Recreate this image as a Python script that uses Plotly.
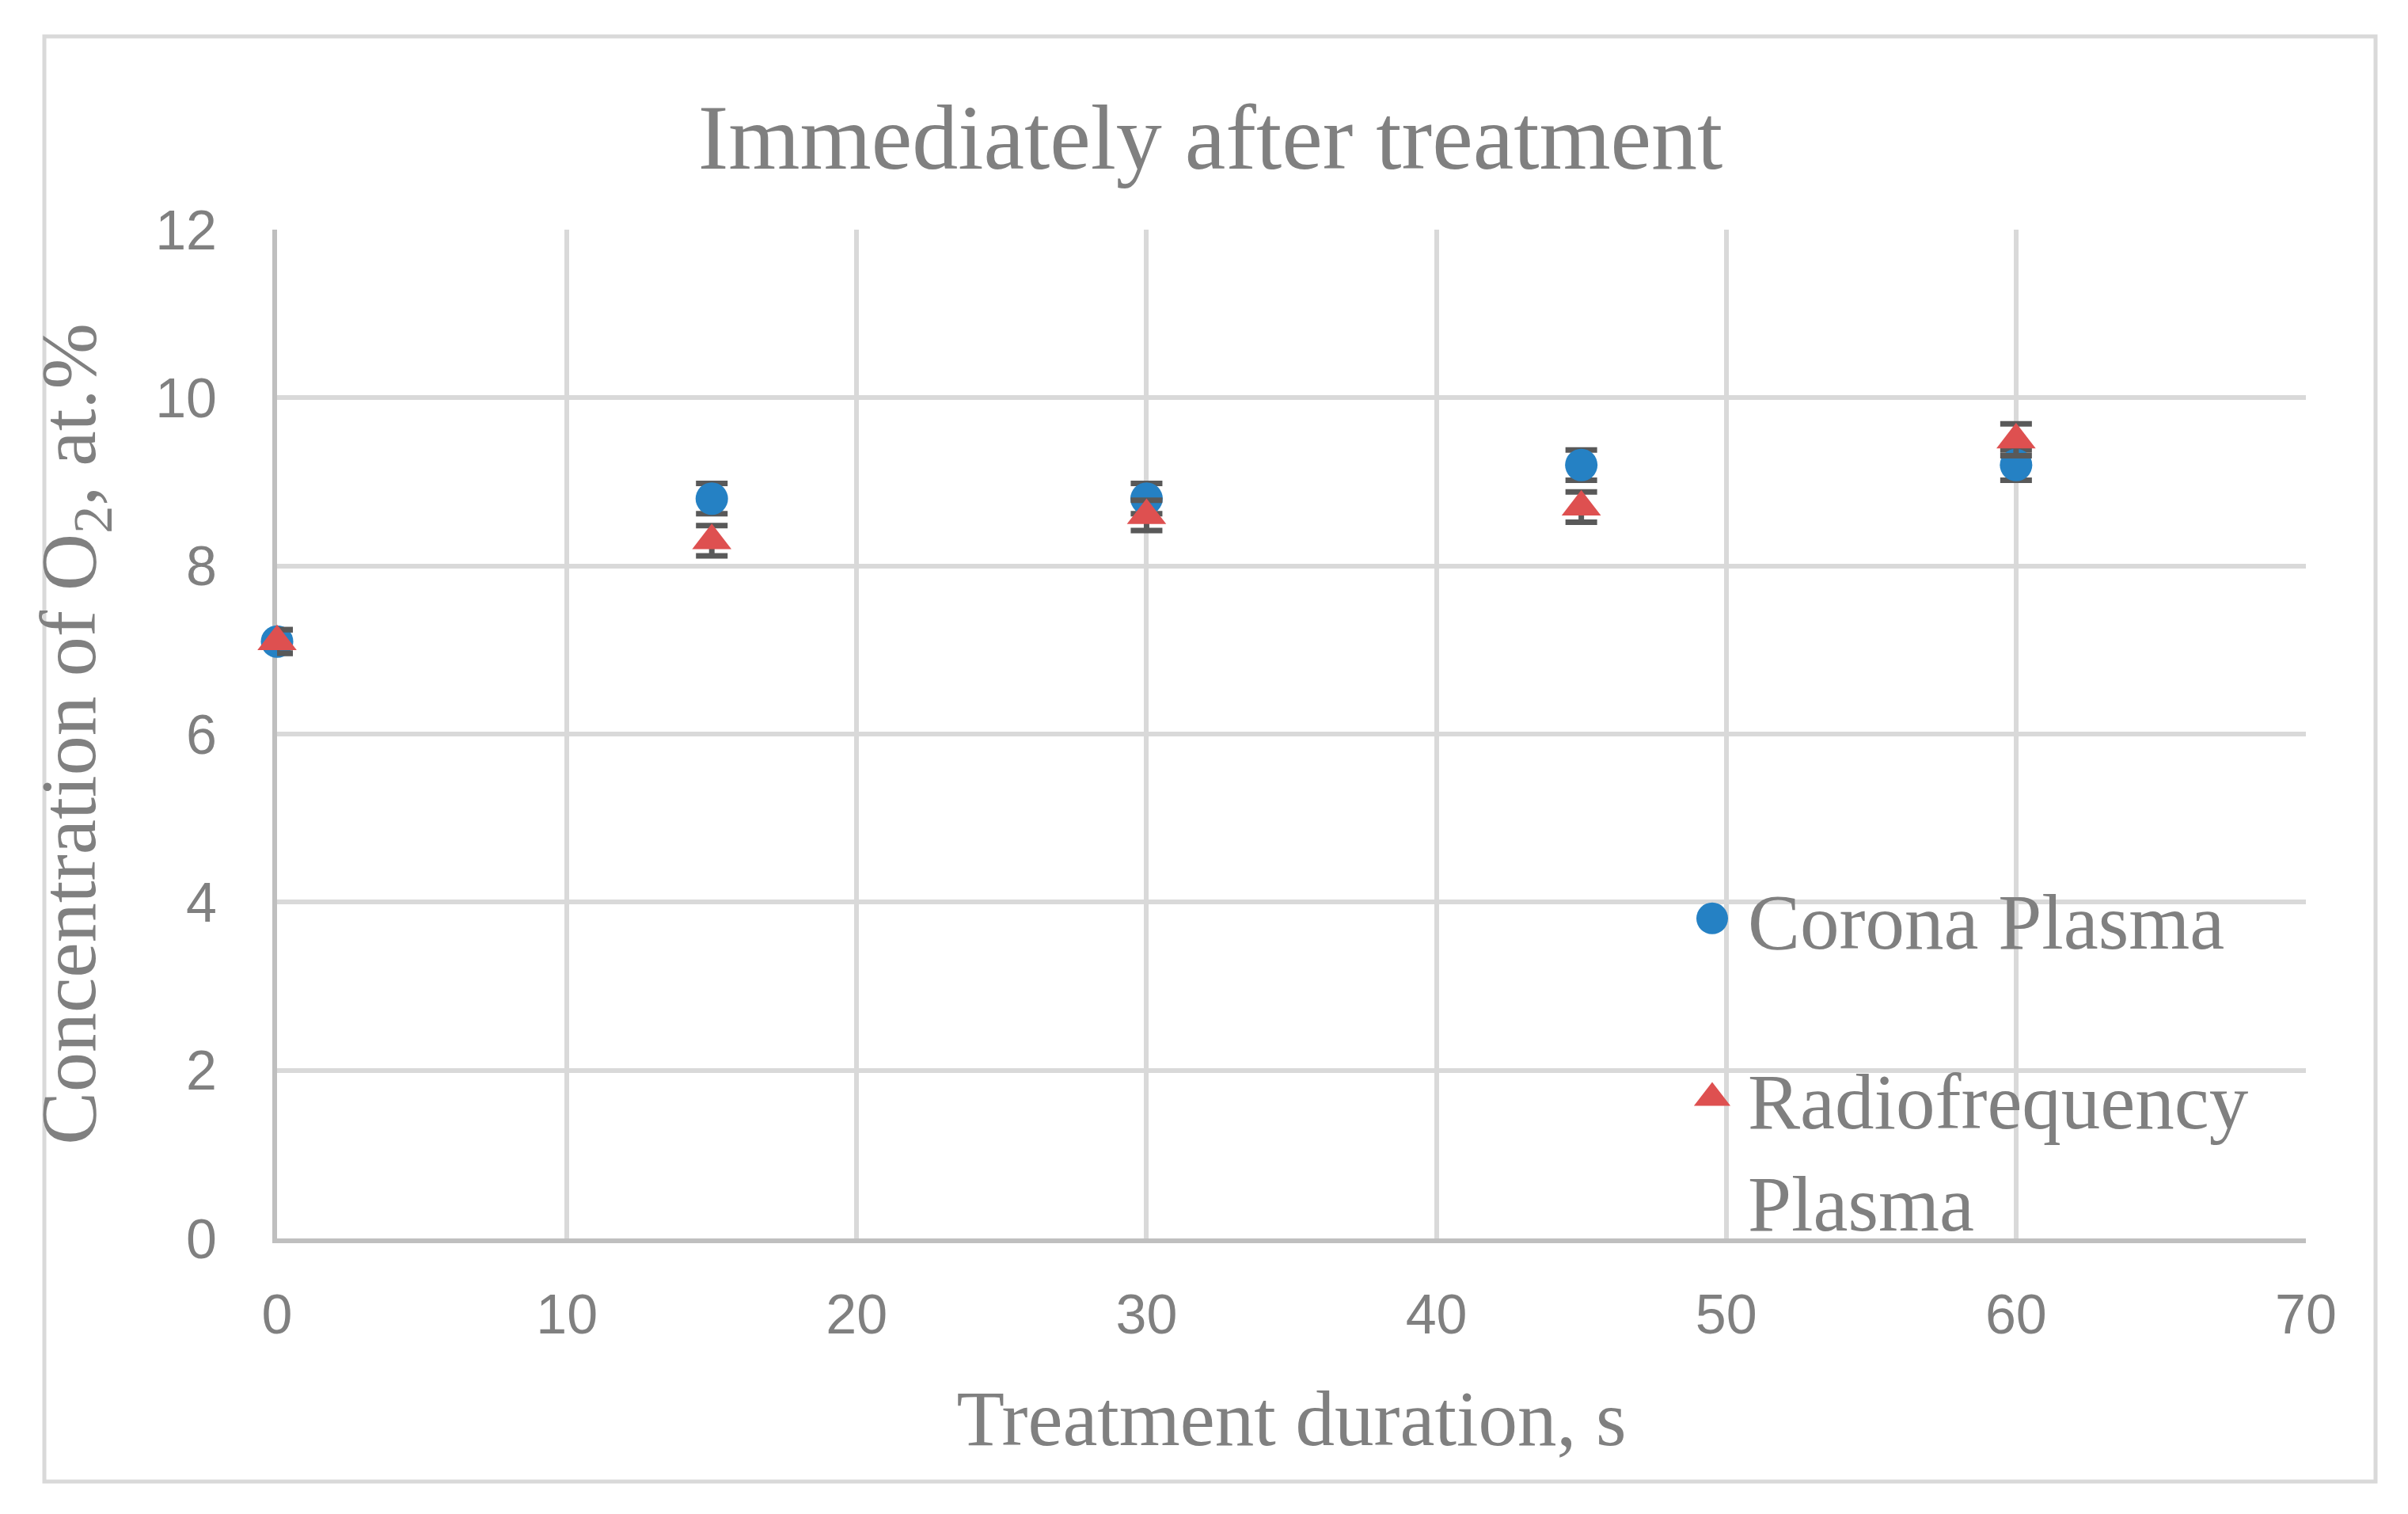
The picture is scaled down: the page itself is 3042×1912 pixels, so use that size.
import plotly.graph_objects as go

# ---- data ----
durations = [0, 15, 30, 45, 60]
corona = [7.1, 8.8, 8.8, 9.2, 9.2]
corona_err = [0.14, 0.18, 0.18, 0.18, 0.18]
rf = [7.1, 8.3, 8.6, 8.7, 9.5]
rf_err = [0.14, 0.18, 0.18, 0.18, 0.19]

series_names = ["Corona Plasma", "Radiofrequency<br>Plasma"]
title_text = "Immediately after treatment"
x_title = "Treatment duration, s"
y_title = "Concentration of O<sub>2</sub>, at.%"
x_ticks = [0, 10, 20, 30, 40, 50, 60, 70]
y_ticks = [0, 2, 4, 6, 8, 10, 12]

# ---- layout constants (pixels, reference coordinates) ----
OFF = 8                      # default body margin of the page
W, H = 3042 - 2 * OFF, 1912 - 2 * OFF
L, R, T, B = 350, 2913, 290, 1564
pw, ph = R - L, B - T

def px_x(p):
    return (p - L) / pw

def px_y(p):
    return (B - p) / ph

GRAY_TXT = "#808080"
GRID = "#D9D9D9"
AXIS = "#BFBFBF"
ERR = "#595959"
BLUE = "#2581C4"
RED = "#DE5050"
SERIF = "Liberation Serif, Times New Roman, serif"
SANS = "Liberation Sans, Arial, sans-serif"

fig = go.Figure()
fig.add_trace(go.Scatter(
    x=durations, y=corona, mode="markers", name=series_names[0],
    legendgroup="a",
    marker=dict(symbol="circle", size=41, color=BLUE),
    error_y=dict(type="data", array=corona_err, color=ERR, thickness=7, width=20),
    cliponaxis=False,
))
fig.add_trace(go.Scatter(
    x=durations, y=rf, mode="markers", name=series_names[1],
    legendgroup="b",
    marker=dict(symbol="triangle-up", size=43, color=RED),
    error_y=dict(type="data", array=rf_err, color=ERR, thickness=7, width=20),
    cliponaxis=False,
))

fig.update_layout(
    width=W, height=H,
    margin=dict(l=L - OFF, r=(3042 - R) - OFF, t=T - OFF, b=(1912 - B) - OFF, pad=0),
    paper_bgcolor="white", plot_bgcolor="white",
    title=dict(text=title_text, font=dict(family=SERIF, size=116, color=GRAY_TXT),
               x=(1529 - OFF) / W, xref="container", xanchor="center",
               y=1 - (172 - OFF) / H, yref="container", yanchor="middle"),
    xaxis=dict(
        range=[0, 70], tickvals=x_ticks, ticktext=[str(v) for v in x_ticks],
        showgrid=True, gridcolor=GRID, gridwidth=6,
        showline=True, linecolor=AXIS, linewidth=6,
        zeroline=False, ticks="", ticklabelstandoff=30,
        tickfont=dict(family=SANS, size=70, color=GRAY_TXT),
        title=dict(text=x_title, font=dict(family=SERIF, size=99, color=GRAY_TXT), standoff=60),
        layer="below traces",
    ),
    yaxis=dict(
        range=[0, 12], tickvals=y_ticks, ticktext=[str(v) for v in y_ticks],
        showgrid=True, gridcolor=GRID, gridwidth=6,
        showline=True, linecolor=AXIS, linewidth=6,
        zeroline=False, ticks="", ticklabelstandoff=56,
        tickfont=dict(family=SANS, size=70, color=GRAY_TXT),
        title=dict(text=y_title, font=dict(family=SERIF, size=100, color=GRAY_TXT), standoff=44),
        layer="below traces",
    ),
    legend=dict(
        x=px_x(2118), y=px_y(1089), xanchor="left", yanchor="top",
        bgcolor="rgba(0,0,0,0)", borderwidth=0,
        font=dict(family=SERIF, size=99, color=GRAY_TXT),
        tracegroupgap=95, itemwidth=80, valign="top",
    ),
    showlegend=True,
    shapes=[dict(type="rect", xref="paper", yref="paper",
                 x0=px_x(56), x1=px_x(3001), y0=px_y(1871), y1=px_y(46),
                 line=dict(color=GRID, width=5), fillcolor="rgba(0,0,0,0)", layer="below")],
)

# legend symbols are capped at 16 px by plotly; enlarge them to the plotted marker size
post = """
var gd = document.getElementsByClassName('plotly-graph-div')[0];
function grow(){
  gd.querySelectorAll('.legendpoints path.scatterpts').forEach(function(p){
    var t = p.getAttribute('transform') || '';
    if (t.indexOf('scale') < 0) { p.setAttribute('transform', t + ' scale(2.5)'); }
  });
}
grow();
gd.on('plotly_afterplot', grow);
"""

fig.write_html("out.html", post_script=post)
